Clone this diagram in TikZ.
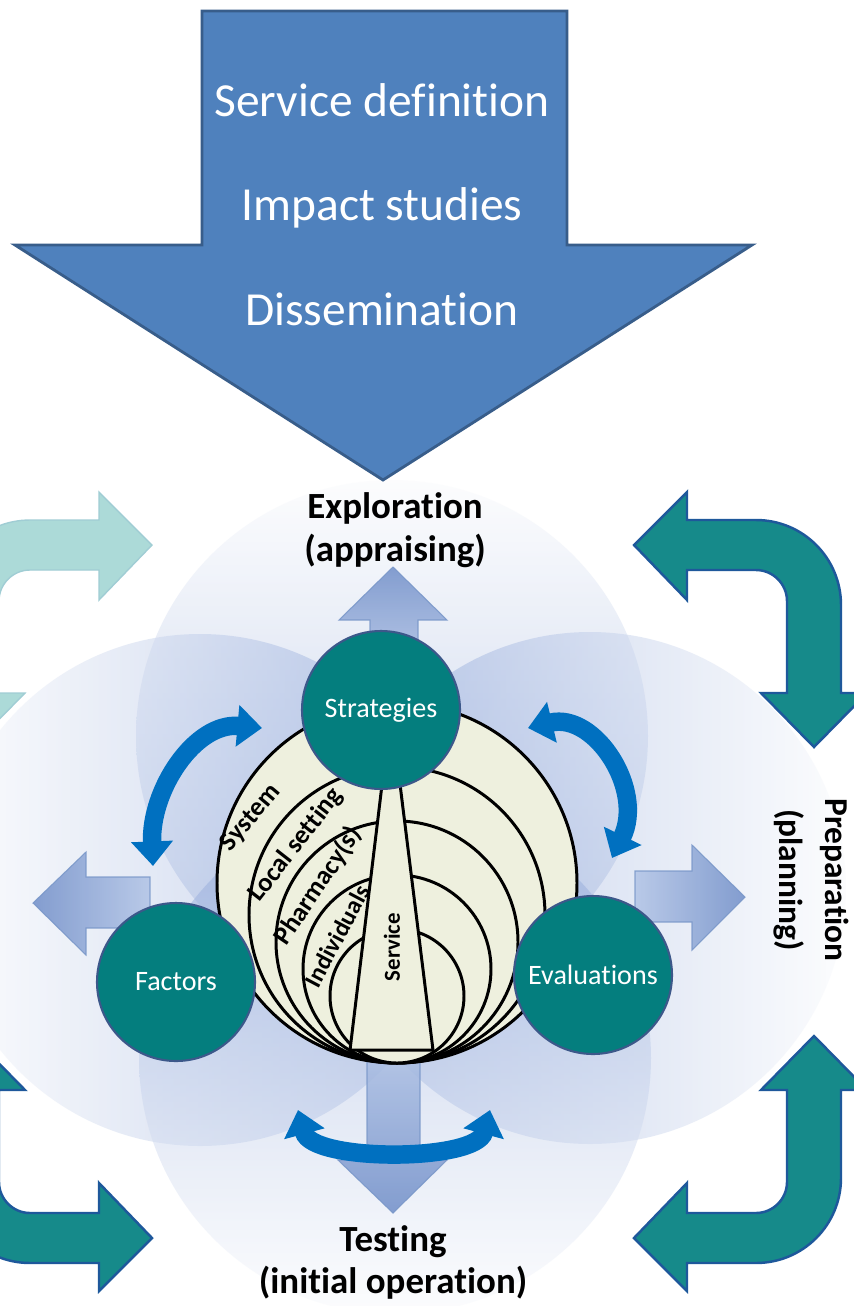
\documentclass[tikz,border=0pt]{standalone}
\usepackage{fontspec}
\setmainfont{Carlito}[RawFeature={-liga;-clig;-calt;-dlig;-rlig}]
\usetikzlibrary{arrows.meta}
\definecolor{bigblue}{RGB}{79,129,189}
\definecolor{bigblueline}{RGB}{56,93,138}
\definecolor{haloblue}{RGB}{138,163,216}
\definecolor{halowhite}{RGB}{250,251,253}
\definecolor{phasedark}{RGB}{112,142,200}
\definecolor{phaselight}{RGB}{178,196,230}
\definecolor{phaseline}{RGB}{120,150,200}
\definecolor{cycteal}{RGB}{22,138,138}
\definecolor{cycline}{RGB}{30,88,155}
\definecolor{paleteal}{RGB}{172,218,216}
\definecolor{paleline}{RGB}{160,205,212}
\definecolor{stageteal}{RGB}{4,126,126}
\definecolor{stageline}{RGB}{60,88,138}
\definecolor{swirlblue}{RGB}{0,112,192}
\definecolor{onioncream}{RGB}{238,240,222}
\tikzset{
  halo/.style={opacity=0.55},
  phase/.style={draw=phaseline, line width=0.6pt, opacity=0.85},
  turnarrow/.style={fill=cycteal, draw=cycline, line width=1.4pt, line join=miter},
  paleturn/.style={fill=paleteal, draw=paleline, line width=0.8pt, line join=miter},
  ring/.style={draw=black, line width=1.7pt, fill=onioncream},
  stage/.style={circle, fill=stageteal, draw=stageline, line width=1.2pt, minimum size=3.16cm, inner sep=0pt, text=white, font=\fontsize{16}{19}\selectfont},
  swirl/.style={swirlblue, line width=10.5pt, {Triangle[length=14pt,width=23pt]}-{Triangle[length=14pt,width=23pt]}},
  ringlabel/.style={font=\bfseries\fontsize{15}{17}\selectfont},
  phaselabel/.style={font=\bfseries\fontsize{21}{25}\selectfont, anchor=base},
  headtext/.style={text=white, font=\fontsize{27}{32}\selectfont, anchor=base}
}
\begin{document}
\begin{tikzpicture}[x=0.02cm, y=-0.02cm]
\useasboundingbox (0,0) rectangle (854,1306);
\clip (0,0) rectangle (854,1306);
\fill[white] (0,0) rectangle (854,1306);
\shade[halo, top color=halowhite, bottom color=haloblue] (392,736) circle (256);
\shade[halo, left color=halowhite, right color=haloblue] (200,890) circle (256);
\shade[halo, left color=haloblue, right color=halowhite] (590,888) circle (256);
\shade[halo, top color=haloblue, bottom color=halowhite] (395,1058) circle (256);
\shadedraw[phase, top color=phasedark, bottom color=phaselight] (393,567) -- (447,620) -- (418,620) -- (418,670) -- (370,670) -- (370,620) -- (339,620) -- cycle;
\shadedraw[phase, left color=phasedark, right color=phaselight] (33,903) -- (86,852) -- (86,877) -- (150,877) -- (150,928) -- (86,928) -- (86,955) -- cycle;
\shadedraw[phase, right color=phasedark, left color=phaselight] (745,897) -- (692,845) -- (692,871) -- (635,871) -- (635,922) -- (692,922) -- (692,950) -- cycle;
\shadedraw[phase, bottom color=phasedark, top color=phaselight] (393,1213) -- (447,1160) -- (420,1160) -- (420,1040) -- (367,1040) -- (367,1160) -- (338,1160) -- cycle;
\draw[paleturn] (152,545) -- (99,492) -- (99,520) -- (30,520) .. controls (-17,520) and (-55,558) .. (-55,605) -- (-55,693) -- (-81,693) -- (-28,747) -- (25,693) -- (-1,693) -- (-1,601) .. controls (-1,584) and (13,570) .. (30,570) -- (99,570) -- (99,600) -- cycle;
\draw[turnarrow] (634,545) -- (687,492) -- (687,520) -- (756,520) .. controls (803,520) and (841,558) .. (841,605) -- (841,693) -- (867,693) -- (814,747) -- (761,693) -- (787,693) -- (787,601) .. controls (787,584) and (773,570) .. (756,570) -- (687,570) -- (687,600) -- cycle;
\draw[turnarrow] (634,1238) -- (687,1291) -- (687,1263) -- (756,1263) .. controls (803,1263) and (841,1225) .. (841,1178) -- (841,1090) -- (867,1090) -- (814,1036) -- (761,1090) -- (787,1090) -- (787,1182) .. controls (787,1199) and (773,1213) .. (756,1213) -- (687,1213) -- (687,1183) -- cycle;
\draw[turnarrow] (152,1238) -- (99,1291) -- (99,1263) -- (30,1263) .. controls (-17,1263) and (-55,1225) .. (-55,1178) -- (-55,1090) -- (-81,1090) -- (-28,1036) -- (25,1090) -- (-1,1090) -- (-1,1182) .. controls (-1,1199) and (13,1213) .. (30,1213) -- (99,1213) -- (99,1183) -- cycle;
\draw[fill=bigblue, draw=bigblueline, line width=1.6pt, line join=miter] (202,11) -- (567,11) -- (567,245) -- (752,245) -- (383,480) -- (15,245) -- (202,245) -- cycle;
\node[headtext] (svcdef) at (382,116) {Service definition};
\node[headtext] (impact) at (382,220) {Impact studies};
\node[headtext] (dissem) at (382,325) {Dissemination};
\draw[ring] (397,883) circle (180);
\draw[ring] (397,915) circle (148);
\draw[ring] (397,942) circle (121);
\draw[ring] (397,969) circle (94);
\draw[ring] (397,996) circle (67);
\draw[ring, line join=miter] (385,760) -- (350,1050) -- (433,1050) -- (397,760);
\node[ringlabel, rotate=50] (system) at (251,818) {System};
\node[ringlabel, rotate=52] (localset) at (296,845) {Local setting};
\node[ringlabel, rotate=56] (pharmacy) at (318,886) {Pharmacy(s)};
\node[ringlabel, rotate=62, font=\bfseries\fontsize{14}{16}\selectfont] (indiv) at (337,936) {Individuals};
\node[ringlabel, rotate=90, font=\bfseries\fontsize{13}{15}\selectfont] (service) at (392,947) {Service};
\node[stage] (strat) at (381,710) {Strategies};
\node[stage] (factors) at (176,982) {Factors};
\node[stage] (evals) at (593,975) {Evaluations};
\draw[swirl] (153,866) .. controls (150,790) and (195,722) .. (262,728);
\draw[swirl] (528,728) .. controls (595,712) and (645,790) .. (612,858);
\draw[swirl] (298,1110) .. controls (312,1162) and (476,1162) .. (490,1110);
\node[phaselabel] (explore) at (395,518) {Exploration};
\node[phaselabel] (appraise) at (395,561) {(appraising)};
\node[phaselabel] (testing) at (393,1251) {Testing};
\node[phaselabel] (initop) at (393,1293) {(initial operation)};
\node[phaselabel, rotate=-90, font=\bfseries\fontsize{19}{23}\selectfont] (prep) at (825,880) {Preparation};
\node[phaselabel, rotate=-90, font=\bfseries\fontsize{19}{23}\selectfont] (planning) at (779,880) {(planning)};
\end{tikzpicture}
\end{document}
